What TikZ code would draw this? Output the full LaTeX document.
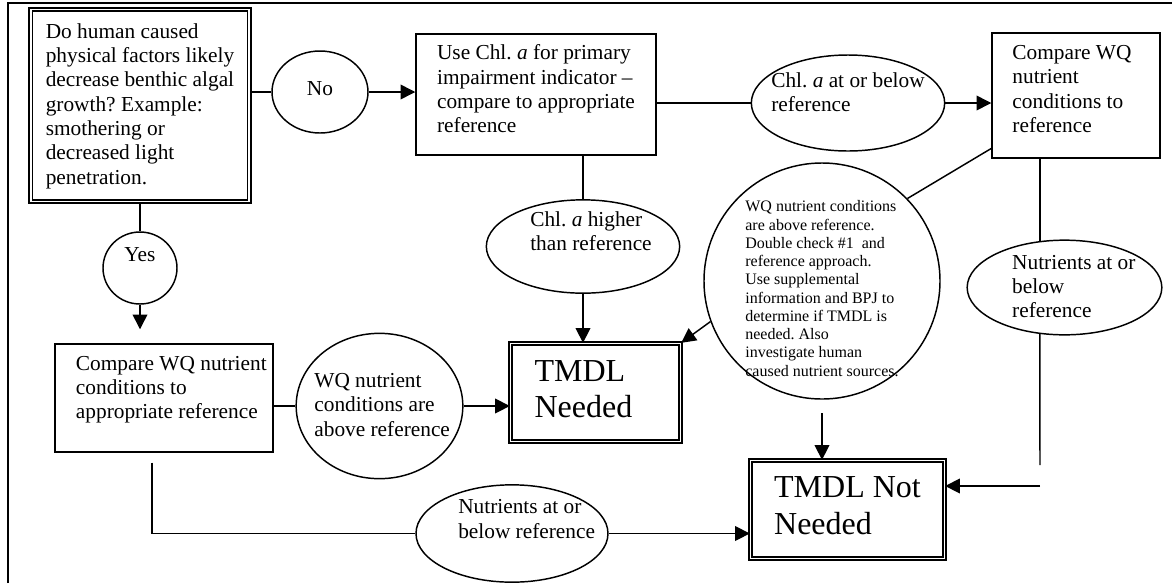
\documentclass[tikz,border=0pt]{standalone}
\usepackage{fontspec}
\setmainfont{Liberation Serif}
\usetikzlibrary{arrows.meta,shapes.geometric,calc}
\frenchspacing

% text block of zero size, shifted inside its shape
\newcommand{\ovl}[3]{\smash{\makebox[0pt]{\hspace*{#1}\hspace*{#1}\raisebox{#2}{\begin{tabular}{@{}l@{}}#3\end{tabular}}}}}

\begin{document}
\begin{tikzpicture}[
  x=0.75pt,y=-0.75pt,
  line width=1.1pt,
  every node/.style={font=\fontsize{16}{18.2}\selectfont,inner sep=0pt},
  box/.style={draw,rectangle},
  dbox/.style={draw,rectangle,double,double distance=1.4pt,line width=1pt},
  oval/.style={draw,ellipse},
  arr/.style={-{Triangle[length=11pt,width=11pt]}},
  big/.style={font=\fontsize{24}{27.5}\selectfont}
]
\useasboundingbox (0,0) rectangle (1172,583);
\draw[line width=1.5pt] (8,583) -- (8,3) -- (1172,3);

\node[dbox,minimum width=164pt,minimum height=144pt] (quest) at (140,105.5) {\ovl{0pt}{-5pt}{Do human caused\\physical factors likely\\decrease benthic algal\\growth? Example:\\smothering or\\decreased light\\penetration.}};
\node[oval,minimum width=72pt,minimum height=61.5pt] (no) at (320,92) {\ovl{0pt}{-3pt}{No}};
\node[box,minimum width=180pt,minimum height=91pt] (use) at (536,94.5) {\ovl{0pt}{-2pt}{Use Chl. \textit{a} for primary\\impairment indicator --\\compare to appropriate\\reference}};
\node[oval,minimum width=145pt,minimum height=72pt] (chlok) at (848,103) {\ovl{0pt}{2pt}{Chl. \textit{a} at or below\\reference}};
\node[box,minimum width=126pt,minimum height=94pt] (cmp) at (1076,95.5) {\ovl{-3pt}{-1pt}{Compare WQ\\nutrient\\conditions to\\reference}};
\node[oval,minimum width=146pt,minimum height=71pt] (nutok) at (1064.5,287.5) {\ovl{7pt}{-5pt}{Nutrients at or\\below\\reference}};
\node[draw,circle,minimum size=177pt,font=\fontsize{12}{13.7}\selectfont] (check) at (822,281) {\ovl{0pt}{-10pt}{WQ nutrient conditions\\are above reference.\\Double check \#1~ and\\reference approach.\\Use supplemental\\information and BPJ to\\determine if TMDL is\\needed. Also\\investigate human\\caused nutrient sources.}};
\node[oval,minimum width=145pt,minimum height=70pt] (chlhi) at (583,246.5) {\ovl{6pt}{5.5pt}{Chl. \textit{a} higher\\than reference}};
\node[oval,minimum width=55.5pt,minimum height=54pt] (yes) at (140,268) {\ovl{0pt}{4.5pt}{Yes}};
\node[box,minimum width=163.5pt,minimum height=81pt] (cmpref) at (164,398) {\ovl{5.5pt}{2pt}{Compare WQ nutrient\\conditions to\\appropriate reference}};
\node[oval,minimum width=125pt,minimum height=109pt] (wqhi) at (379.5,406) {\ovl{2pt}{-5pt}{WQ nutrient\\conditions are\\above reference}};
\node[dbox,big,minimum width=127.5pt,minimum height=73.5pt] (need) at (595.5,392.5) {\ovl{-9pt}{-6pt}{TMDL\\Needed}};
\node[dbox,big,minimum width=145.5pt,minimum height=73.5pt] (notneed) at (847.5,509.5) {\ovl{0pt}{-5.5pt}{TMDL Not\\Needed}};
\node[oval,minimum width=144pt,minimum height=73pt] (nutlo) at (512,533.5) {\ovl{11pt}{5pt}{Nutrients at or\\below reference}};
\coordinate (drop) at (1040,465);
\coordinate (back) at (1040,486);

% top row
\draw (quest.east |- no.west) -- (no.west);
\draw[arr] (no.east) -- (no.east -| use.west);
\draw (use.east |- chlok.west) -- (chlok.west);
\draw[arr] (chlok.east) -- (chlok.east -| cmp.west);
% yes branch
\draw (quest.south) -- (yes.north);
\draw[arr,shorten >=10.5pt] (yes.south) -- (yes.south |- cmpref.north);
\draw (cmpref.east |- wqhi.west) -- (wqhi.west);
\draw[arr] (wqhi.east) -- (wqhi.east -| need.west);
\draw (cmpref.south) ++(-12,10) |- (nutlo.west);
\draw[arr] (nutlo.east) -- (nutlo.east -| notneed.west);
% chl. a branch
\draw (use.south -| chlhi.north) -- (chlhi.north);
\draw[arr] (chlhi.south) -- (chlhi.south |- need.north);
\draw (cmp.212) -- (check.44);
\draw[arr] (check.200) -- (need.north east);
\draw[arr,shorten <=10pt] (check.south) -- (check.south |- notneed.north);
\draw (cmp.south -| nutok.118) -- (nutok.118);
\draw (nutok.242) -- (drop);
\draw[arr] (back) -- (back -| notneed.east);
\end{tikzpicture}
\end{document}
